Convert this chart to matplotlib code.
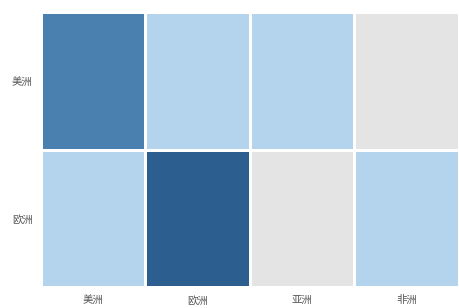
import numpy as np
import matplotlib.pyplot as plt
from matplotlib.colors import ListedColormap

plt.rcParams['font.family'] = ['Noto Sans CJK SC', 'DejaVu Sans']

# 行/列标签
rows = ['美洲', '欧洲']
cols = ['美洲', '欧洲', '亚洲', '非洲']

# 色阶等级 (0=灰, 1=浅蓝, 2=中蓝, 3=深蓝)
level = np.array([[2, 1, 1, 0],
                  [1, 3, 0, 1]])

cmap = ListedColormap(['#e4e4e4', '#b4d4ee', '#4a80b0', '#2c5f8f'])

fig = plt.figure(figsize=(4.59, 3.08), dpi=100)
ax = fig.add_axes([0.089, 0.068, 0.911, 0.893])

ax.pcolormesh(level, cmap=cmap, vmin=-0.5, vmax=3.5,
              edgecolors='white', linewidth=0.8)
ax.set_xlim(0, len(cols))
ax.set_ylim(len(rows), 0)

ax.set_xticks(np.arange(len(cols)) + 0.5)
ax.set_xticklabels(cols, fontsize=7.5, color='#555555')
ax.set_yticks(np.arange(len(rows)) + 0.5)
ax.set_yticklabels(rows, fontsize=7.5, color='#555555')
ax.tick_params(length=0, pad=6)
for s in ax.spines.values():
    s.set_visible(False)

fig.savefig('out.png', dpi=100)
